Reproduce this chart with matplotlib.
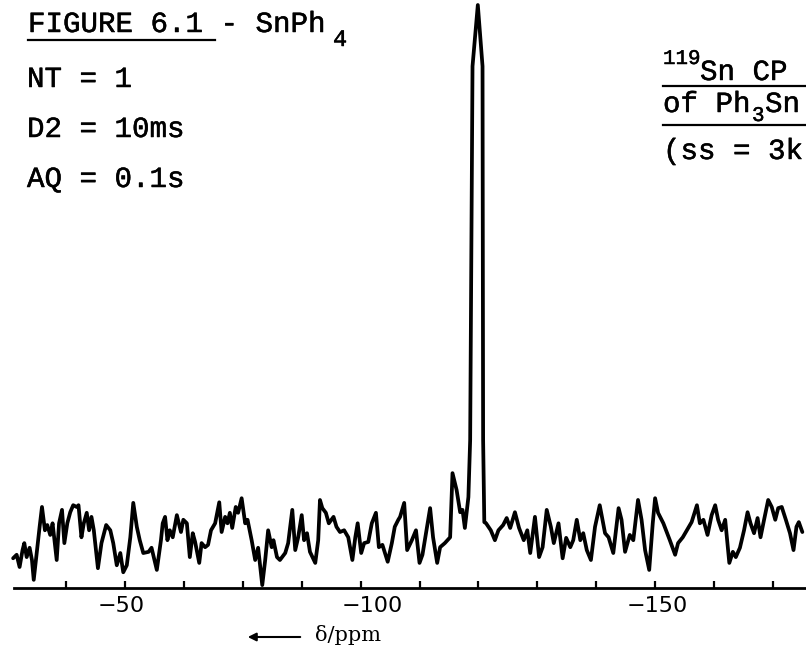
import matplotlib
matplotlib.use('Agg')
import matplotlib.pyplot as plt
import matplotlib.patheffects as pe
from matplotlib.lines import Line2D
from matplotlib.patches import FancyArrowPatch

# chemical shift (ppm) and intensity (arb. units, peak = 100)
ppm = [-41.0, -41.6, -42.1, -42.6, -42.9, -43.3, -43.8, -44.2, -44.5, -45.0,
       -45.5, -45.9, -46.4, -46.8, -47.3, -47.7, -48.4, -48.8, -49.3, -49.7,
       -50.2, -50.7, -51.2, -51.8, -52.1, -52.6, -53.0, -53.5, -53.9, -54.3,
       -54.7, -55.4, -56.0, -56.8, -57.5, -58.0, -58.6, -59.2, -59.7, -60.3,
       -60.9, -61.4, -62.0, -62.5, -63.1, -64.0, -64.5, -65.4, -66.1, -66.4,
       -66.8, -67.2, -67.6, -68.1, -68.8, -69.5, -69.9, -70.5, -71.0, -71.5,
       -71.9, -72.6, -73.0, -73.6, -74.1, -74.6, -75.3, -76.0, -76.4, -77.0,
       -77.4, -77.8, -78.2, -78.8, -79.2, -79.8, -80.4, -80.8, -81.5, -82.1,
       -82.6, -83.3, -83.8, -84.3, -84.9, -85.2, -85.8, -86.3, -87.2, -87.7,
       -88.4, -88.9, -89.4, -90.0, -90.4, -90.9, -91.4, -92.3, -92.8, -93.1,
       -93.5, -94.1, -94.6, -95.4, -95.9, -96.5, -97.2, -97.9, -98.6, -99.1,
       -99.5, -100.1, -100.6, -101.3, -101.9, -102.6, -103.1, -103.7, -104.6, -105.3,
       -105.8, -106.4, -106.7, -107.4, -107.9, -108.7, -109.4, -110.0, -110.5, -111.1,
       -111.8, -112.3, -113.0, -113.5, -114.3, -115.2, -115.6, -116.3, -116.9, -117.3,
       -117.7, -118.3, -118.6, -119.0, -119.9, -120.7, -120.8, -121.0, -121.3, -122.1,
       -122.8, -123.4, -124.2, -124.8, -125.4, -126.2, -126.9, -127.7, -128.3, -128.8,
       -129.6, -130.3, -130.9, -131.6, -132.3, -132.8, -133.6, -134.3, -134.9, -135.6,
       -136.1, -136.7, -137.3, -137.8, -138.4, -139.1, -139.8, -140.6, -141.5, -142.1,
       -142.9, -143.8, -144.3, -144.9, -145.7, -146.3, -147.1, -147.7, -148.3, -149.0,
       -149.6, -150.0, -150.5, -151.4, -152.5, -153.4, -153.9, -154.7, -155.4, -156.2,
       -157.1, -157.6, -158.2, -158.9, -159.6, -160.2, -160.7, -161.3, -161.9, -162.6,
       -163.2, -163.7, -164.4, -165.1, -165.7, -166.2, -166.8, -167.4, -167.9, -168.5,
       -169.2, -169.8, -170.4, -170.9, -171.5, -172.2, -172.9, -173.5, -174.0, -174.4,
       -175.0]

intensity = [5.1, 5.7, 3.6, 6.5, 7.7, 5.3, 6.9, 4.8, 1.4, 6.0,
             10.5, 13.9, 9.9, 10.8, 9.1, 11.1, 4.8, 11.1, 13.4, 7.7,
             11.1, 13.0, 14.2, 13.9, 14.2, 8.7, 11.1, 12.9, 9.9, 12.2,
             9.9, 3.4, 7.7, 10.8, 9.9, 7.7, 3.9, 6.0, 2.7, 3.9,
             8.7, 14.6, 10.5, 8.2, 6.0, 6.2, 6.9, 3.1, 8.2, 11.1,
             12.2, 8.2, 9.9, 8.7, 12.5, 9.6, 11.7, 11.1, 5.3, 9.4,
             7.9, 4.3, 7.7, 7.0, 7.4, 9.9, 11.1, 14.7, 9.6, 12.2,
             11.1, 12.9, 10.3, 13.9, 12.9, 15.4, 11.1, 11.7, 8.2, 4.8,
             6.9, 0.5, 4.8, 9.9, 7.0, 8.2, 5.3, 4.8, 6.0, 7.7,
             13.4, 6.5, 8.7, 12.5, 8.2, 9.4, 6.2, 4.3, 8.2, 15.1,
             13.7, 12.9, 11.1, 12.2, 10.5, 9.6, 9.9, 8.7, 4.8, 8.7,
             11.1, 6.0, 7.7, 7.9, 11.1, 12.9, 7.0, 7.4, 4.5, 7.7,
             10.5, 11.7, 12.2, 14.6, 6.5, 8.2, 9.9, 4.3, 5.7, 9.4,
             13.7, 8.7, 4.3, 7.0, 7.7, 8.7, 19.7, 16.8, 13.0, 13.4,
             10.3, 15.6, 25.4, 89.5, 100.0, 89.5, 25.4, 11.3, 11.1, 9.9,
             8.2, 9.9, 10.8, 12.0, 10.3, 13.0, 10.3, 8.2, 9.9, 6.0,
             12.2, 5.3, 7.0, 13.4, 10.5, 7.7, 11.1, 5.1, 8.6, 7.0,
             8.2, 11.7, 8.2, 9.4, 6.5, 4.8, 10.5, 14.2, 9.4, 8.7,
             6.0, 13.7, 11.7, 6.2, 9.1, 8.2, 15.1, 11.7, 6.5, 3.1,
             11.1, 15.4, 12.9, 11.1, 8.2, 5.7, 7.7, 8.7, 9.9, 11.3,
             14.2, 11.1, 11.7, 9.1, 12.5, 14.2, 11.7, 9.9, 11.7, 4.3,
             6.2, 5.3, 6.9, 9.9, 13.0, 11.1, 9.4, 12.0, 8.7, 11.7,
             15.1, 13.9, 11.7, 13.7, 13.9, 11.7, 9.4, 6.5, 10.5, 11.3,
             9.6]

tick_marks = [-50, -60, -70, -80, -90, -100, -110, -120, -130, -140, -150, -160, -170]
label_positions = [-59.3, -101.9, -150.3]
label_texts = ['\u221250', '\u2212100', '\u2212150']

W, H = 806, 651
fig = plt.figure(figsize=(W / 100, H / 100), dpi=100)
fig.patch.set_facecolor('white')

ax = fig.add_axes([14 / W, (H - 588) / H, (W - 14) / W, 588 / H])
ax.plot(ppm, intensity, color='black', lw=2.7, solid_joinstyle='round',
        solid_capstyle='round', clip_on=False)
ax.set_xlim(-41.15, -175.62)
ax.set_ylim(0, 100.86)
for s in ['top', 'left', 'right']:
    ax.spines[s].set_visible(False)
ax.spines['bottom'].set_linewidth(2.0)
ax.set_yticks([])
ax.set_xticks(label_positions, labels=label_texts)
ax.tick_params(axis='x', which='major', length=0, pad=6, labelsize=16)
ax.set_xticks(tick_marks, minor=True)
ax.tick_params(axis='x', which='minor', direction='in', length=5, width=1.6)
ax.patch.set_alpha(0)

mono = 'Liberation Mono'
bold_fx = [pe.withStroke(linewidth=0.35, foreground='black')]


def ftext(x, y, s, size=21, **kw):
    fig.text(x / W, 1 - y / H, s, fontsize=size, family=mono, va='baseline',
             ha='left', path_effects=bold_fx, **kw)


def hline(x0, x1, y, lw=1.6):
    fig.add_artist(Line2D([x0 / W, x1 / W], [1 - y / H, 1 - y / H],
                          transform=fig.transFigure, color='black', lw=lw))


ftext(28, 32, 'FIGURE 6.1 - SnPh')
ftext(333, 46, '4', size=17)
hline(28, 215, 40)
ftext(27, 87, 'NT = 1')
ftext(27, 137, 'D2 = 10ms')
ftext(27, 187, 'AQ = 0.1s')

ftext(663, 64, '119', size=15)
ftext(700, 80, 'Sn CP')
hline(663, 806, 86)
ftext(663, 112, 'of Ph')
ftext(752, 121, '3', size=15)
ftext(765, 112, 'Sn')
hline(663, 806, 125)
ftext(663, 159, '(ss = 3k')

fig.text(315 / W, 1 - 641 / H, '\u03b4/ppm', fontsize=15, family='DejaVu Serif',
         va='baseline', ha='left')
fig.add_artist(FancyArrowPatch((303 / W, 1 - 637 / H), (245 / W, 1 - 637 / H),
                               transform=fig.transFigure, arrowstyle='-|>',
                               mutation_scale=12, color='black', lw=1.5))

fig.savefig('out.png', dpi=100)
